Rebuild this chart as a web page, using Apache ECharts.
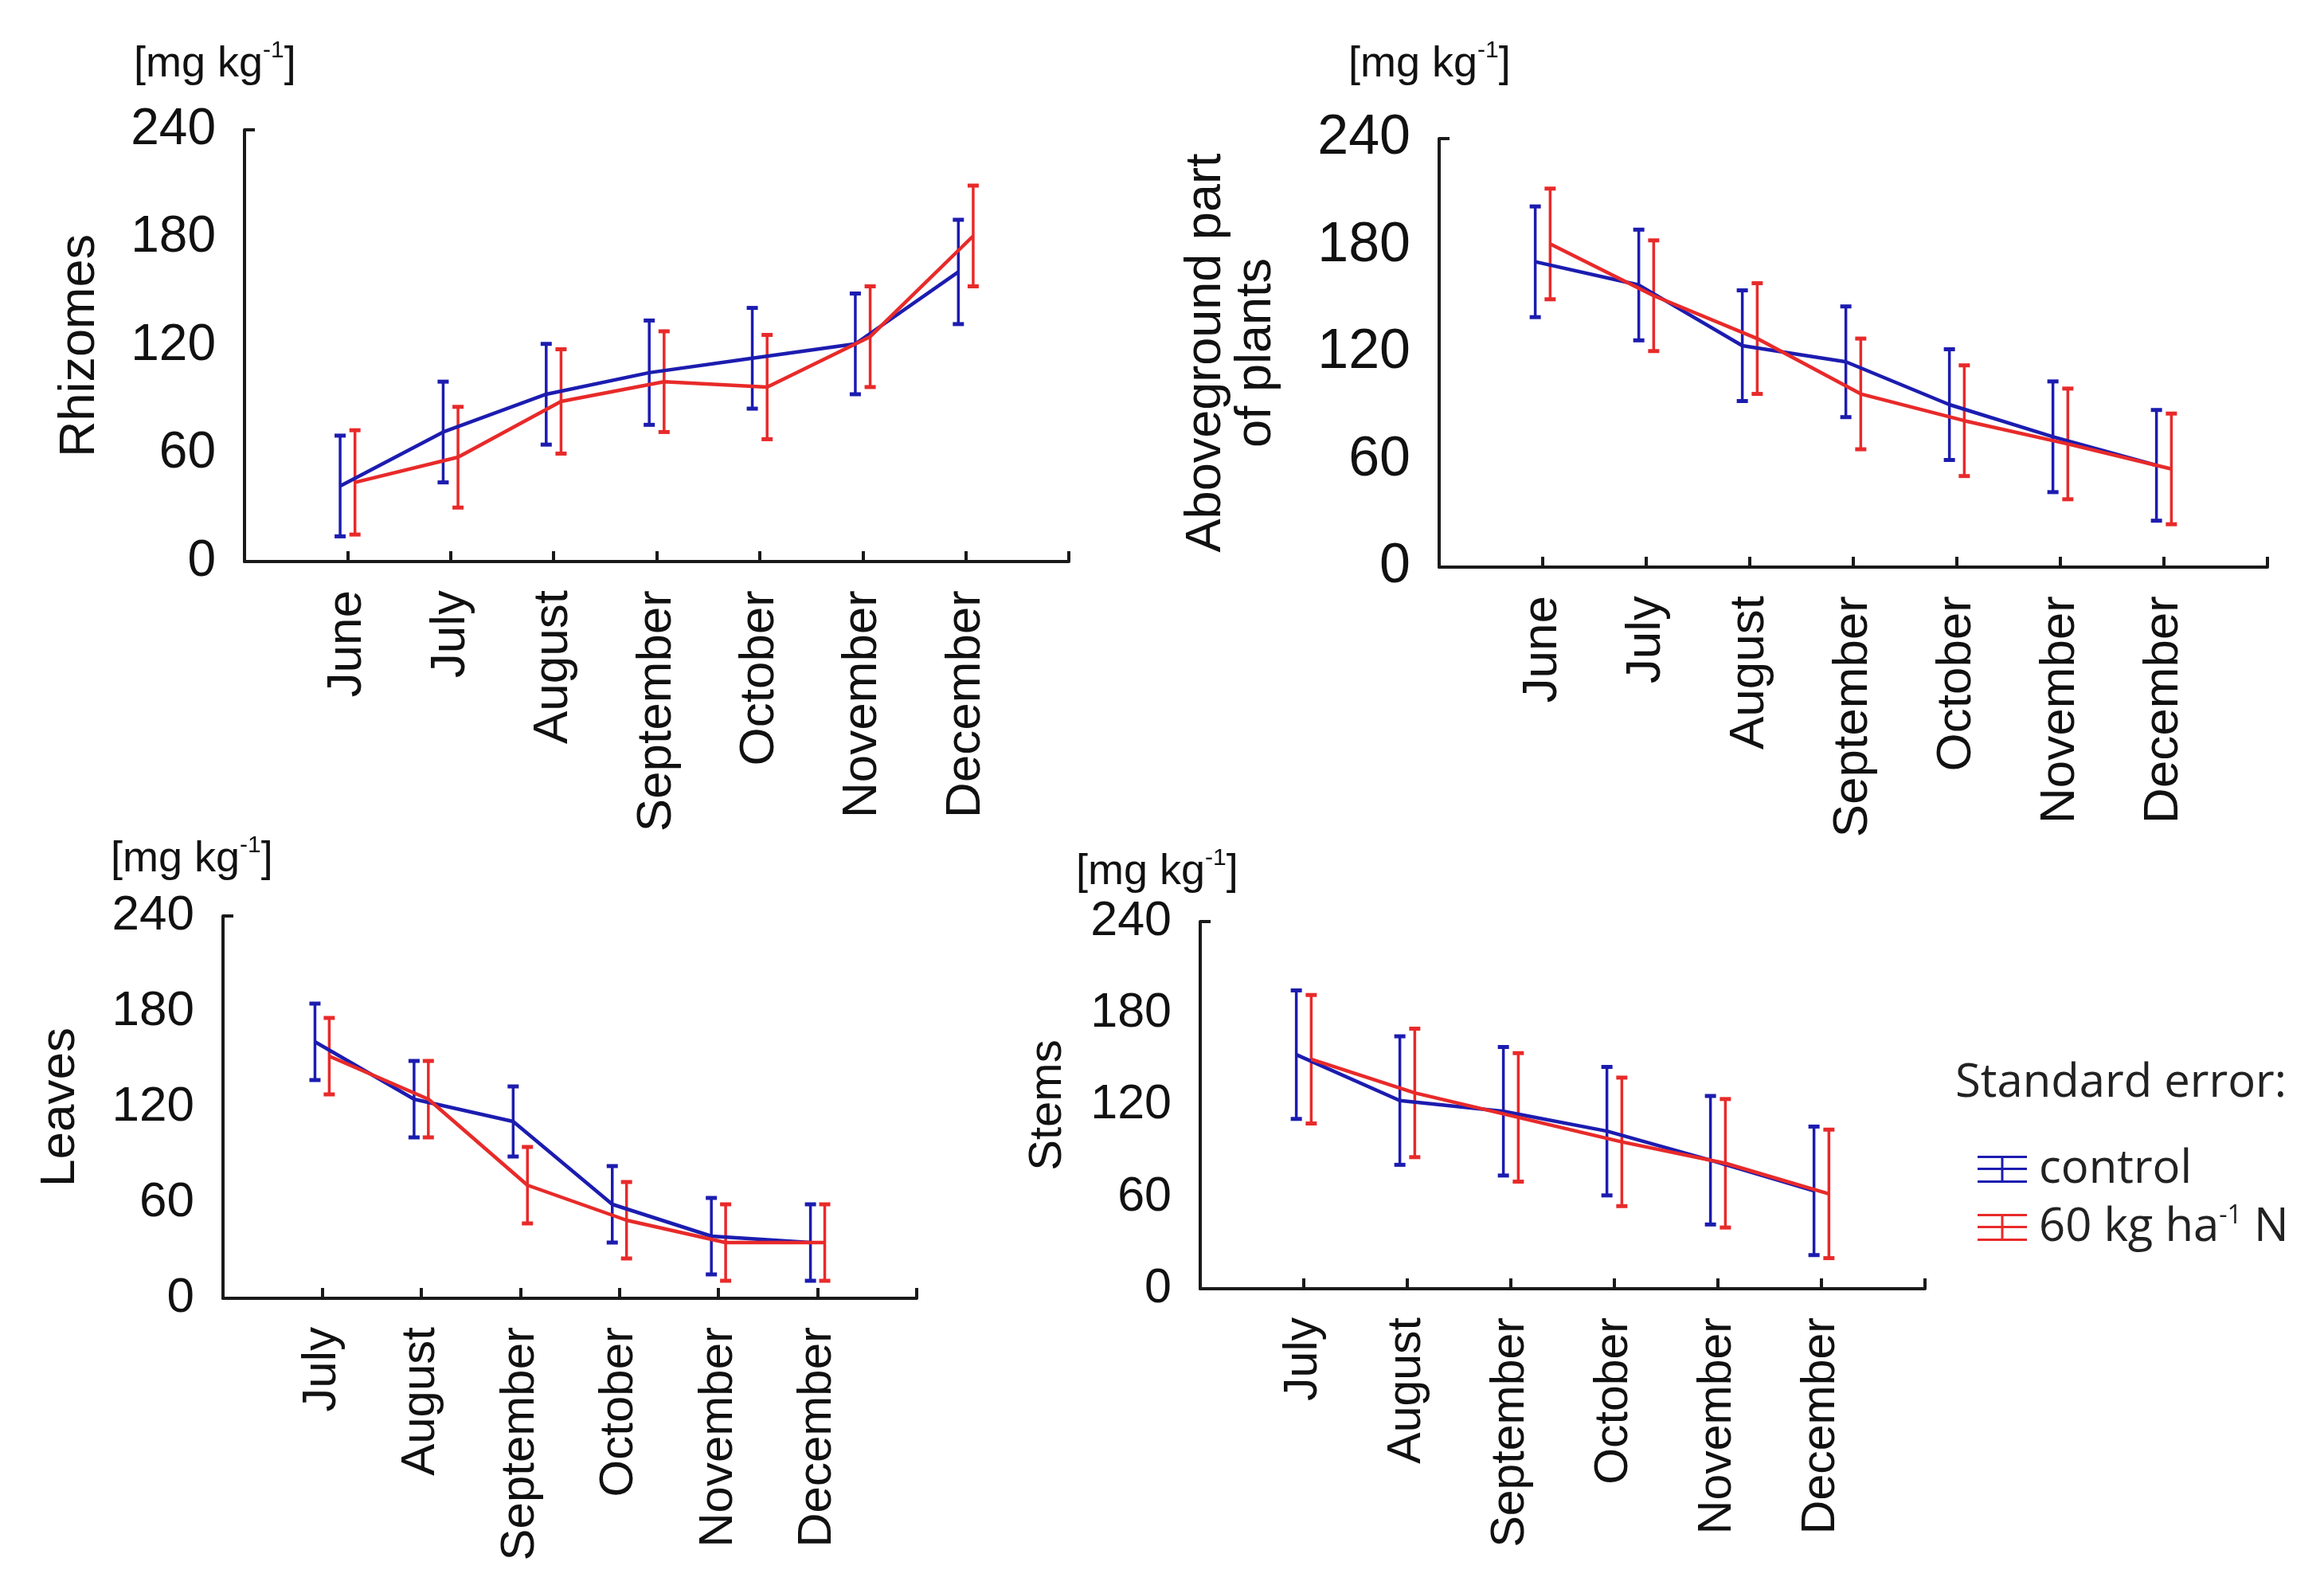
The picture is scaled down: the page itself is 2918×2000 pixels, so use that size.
<!DOCTYPE html>
<html>
<head>
<meta charset="utf-8">
<script src="https://cdn.jsdelivr.net/npm/echarts@6/dist/echarts.min.js"></script>
<style>
html,body{margin:0;padding:0;background:#fff;}
#chart{width:2918px;height:2000px;}
</style>
</head>
<body>
<div id="chart"></div>
<script>
// ---- Data ----
const monthsA = ['June', 'July', 'August', 'September', 'October', 'November', 'December'];
const monthsB = ['July', 'August', 'September', 'October', 'November', 'December'];
const yTicks = [0, 60, 120, 180, 240];

const rhizomesControl   = [42, 72, 93, 105, 113, 121, 161];
const rhizomesControlSE = [28, 28, 28, 29, 28, 28, 29];
const rhizomesN60       = [44, 58, 89, 100, 97, 125, 181];
const rhizomesN60SE     = [29, 28, 29, 28, 29, 28, 28];

const abovegroundControl   = [171, 158, 124, 115, 91, 73, 57];
const abovegroundControlSE = [31, 31, 31, 31, 31, 31, 31];
const abovegroundN60       = [181, 152, 128, 97, 82, 69, 55];
const abovegroundN60SE     = [31, 31, 31, 31, 31, 31, 31];

const leavesControl   = [161, 125, 111, 59, 39, 35];
const leavesControlSE = [24, 24, 22, 24, 24, 24];
const leavesN60       = [152, 125, 71, 49, 35, 35];
const leavesN60SE     = [24, 24, 24, 24, 24, 24];

const stemsControl   = [153, 123, 116, 103, 84, 64];
const stemsControlSE = [42, 42, 42, 42, 42, 42];
const stemsN60       = [150, 128, 112, 96, 82, 62];
const stemsN60SE     = [42, 42, 42, 42, 42, 42];

const seriesNames = ['control', '60 kg ha-1 N'];

// ---- Styling ----
const BLUE = '#1c1cb0';
const RED = '#e82a2a';
const AXIS = '#1a1a1a';
const FONT = '"Liberation Sans", Arial, sans-serif';
const LEGEND_FONT = '"Open Sans", "Noto Sans", sans-serif';
const DODGE = 0.072;

const panels = [
  { grid: {left: 307, top: 163, width: 1035, height: 542}, months: monthsA, name: 'Rhizomes', nameGap: 170, nameSize: 63, tickSize: 64, monthSize: 62, nameLH: 72,
    c: rhizomesControl, cse: rhizomesControlSE, n: rhizomesN60, nse: rhizomesN60SE },
  { grid: {left: 1807, top: 174, width: 1040, height: 538}, months: monthsA, name: 'Aboveground part\nof plants', nameGap: 198, nameSize: 63, tickSize: 70, monthSize: 62, nameLH: 63,
    c: abovegroundControl, cse: abovegroundControlSE, n: abovegroundN60, nse: abovegroundN60SE },
  { grid: {left: 280, top: 1150, width: 871, height: 480}, months: monthsB, name: 'Leaves', nameGap: 168, nameSize: 62, tickSize: 62, monthSize: 60, nameLH: 72,
    c: leavesControl, cse: leavesControlSE, n: leavesN60, nse: leavesN60SE },
  { grid: {left: 1507, top: 1157, width: 910, height: 461}, months: monthsB, name: 'Stems', nameGap: 155, nameSize: 58, tickSize: 61, monthSize: 59, nameLH: 72,
    c: stemsControl, cse: stemsControlSE, n: stemsN60, nse: stemsN60SE }
];

const unitTitles = [
  {left: 163, top: 44},
  {left: 1688, top: 44},
  {left: 134, top: 1042},
  {left: 1346, top: 1058}
];

const grids = [], xAxes = [], yAxes = [], series = [];

function errorBars(name, color, idx, means, ses, dodge) {
  return {
    type: 'custom',
    name: name,
    coordinateSystem: 'cartesian2d',
    xAxisIndex: idx, yAxisIndex: idx,
    z: 3,
    data: means.map((m, i) => [i + 1 + dodge, m, ses[i]]),
    encode: {x: 0, y: 1},
    renderItem: function (params, api) {
      const x = api.value(0), m = api.value(1), s = api.value(2);
      const top = api.coord([x, m + s]);
      const bot = api.coord([x, m - s]);
      const cap = 7;
      const st = {stroke: color, lineWidth: 3.5};
      return {
        type: 'group',
        children: [
          {type: 'line', shape: {x1: top[0], y1: top[1], x2: bot[0], y2: bot[1]}, style: st},
          {type: 'line', shape: {x1: top[0] - cap, y1: top[1], x2: top[0] + cap, y2: top[1]}, style: {stroke: color, lineWidth: 5}},
          {type: 'line', shape: {x1: bot[0] - cap, y1: bot[1], x2: bot[0] + cap, y2: bot[1]}, style: {stroke: color, lineWidth: 5}}
        ]
      };
    }
  };
}

panels.forEach((p, idx) => {
  const nCat = p.months.length;
  grids.push(Object.assign({containLabel: false}, p.grid));
  xAxes.push({
    type: 'value', gridIndex: idx, min: 0, max: nCat + 1, interval: 1,
    splitLine: {show: false},
    axisLine: {show: true, lineStyle: {color: AXIS, width: 4}},
    axisTick: {show: true, inside: true, length: 13, lineStyle: {color: AXIS, width: 4}},
    axisLabel: {
      rotate: 90, margin: 36, fontSize: p.monthSize, fontFamily: FONT, color: '#111',
      customValues: p.months.map((m, i) => i + 1),
      formatter: v => p.months[Math.round(v) - 1] || ''
    }
  });
  yAxes.push({
    type: 'value', gridIndex: idx, min: 0, max: 240, interval: 60,
    splitLine: {show: false},
    axisLine: {show: true, lineStyle: {color: AXIS, width: 4}},
    axisTick: {show: true, inside: true, length: 13, customValues: [240], lineStyle: {color: AXIS, width: 4}},
    axisLabel: {margin: 36, fontSize: p.tickSize, fontFamily: FONT, color: '#111', customValues: yTicks},
    name: p.name, nameLocation: 'middle', nameRotate: 90, nameGap: p.nameGap,
    nameTextStyle: {fontSize: p.nameSize, fontFamily: FONT, color: '#111', lineHeight: p.nameLH}
  });
  series.push(errorBars('control SE', BLUE, idx, p.c, p.cse, -DODGE));
  series.push(errorBars('60N SE', RED, idx, p.n, p.nse, DODGE));
  series.push({
    type: 'line', name: seriesNames[0], xAxisIndex: idx, yAxisIndex: idx, z: 4,
    data: p.c.map((v, i) => [i + 1 - DODGE, v]),
    symbol: 'none', lineStyle: {color: BLUE, width: 4.5}, itemStyle: {color: BLUE}
  });
  series.push({
    type: 'line', name: seriesNames[1], xAxisIndex: idx, yAxisIndex: idx, z: 4,
    data: p.n.map((v, i) => [i + 1 + DODGE, v]),
    symbol: 'none', lineStyle: {color: RED, width: 4.5}, itemStyle: {color: RED}
  });
});

const titles = unitTitles.map(t => ({
  left: t.left, top: t.top,
  text: '{n|[mg kg}{s|-1}{n|]}',
  textStyle: {
    fontWeight: 'normal',
    rich: {
      n: {fontSize: 54, fontWeight: 'normal', fontFamily: FONT, color: '#111', lineHeight: 64},
      s: {fontSize: 30, fontWeight: 'normal', fontFamily: FONT, color: '#111', verticalAlign: 'top', lineHeight: 40}
    }
  }
}));
titles.push({
  left: 2450, top: 1326, text: 'Standard error:',
  textStyle: {fontSize: 58, fontWeight: 'normal', fontFamily: LEGEND_FONT, color: '#222'}
});

const ICON = 'path://M0,0h62v3h-62z M0,15h62v3h-62z M0,31h62v3h-62z M29.5,0h3v34h-3z';

const option = {
  backgroundColor: '#ffffff',
  animation: false,
  title: titles,
  legend: {
    orient: 'vertical', left: 2478, top: 1434,
    itemWidth: 62, itemHeight: 34, itemGap: 14,
    data: [{name: seriesNames[0], icon: ICON}, {name: seriesNames[1], icon: ICON}],
    formatter: name => name === seriesNames[1] ? '{t|60 kg ha}{s|-1}{t| N}' : '{t|' + name + '}',
    textStyle: {
      padding: [0, 0, 0, 10],
      rich: {
        t: {fontSize: 58, fontFamily: LEGEND_FONT, color: '#222', lineHeight: 60},
        s: {fontSize: 32, fontFamily: LEGEND_FONT, color: '#222', verticalAlign: 'top', lineHeight: 40}
      }
    }
  },
  grid: grids,
  xAxis: xAxes,
  yAxis: yAxes,
  series: series
};

const chart = echarts.init(document.getElementById('chart'), null, {renderer: 'canvas'});
chart.setOption(option);
</script>
</body>
</html>
